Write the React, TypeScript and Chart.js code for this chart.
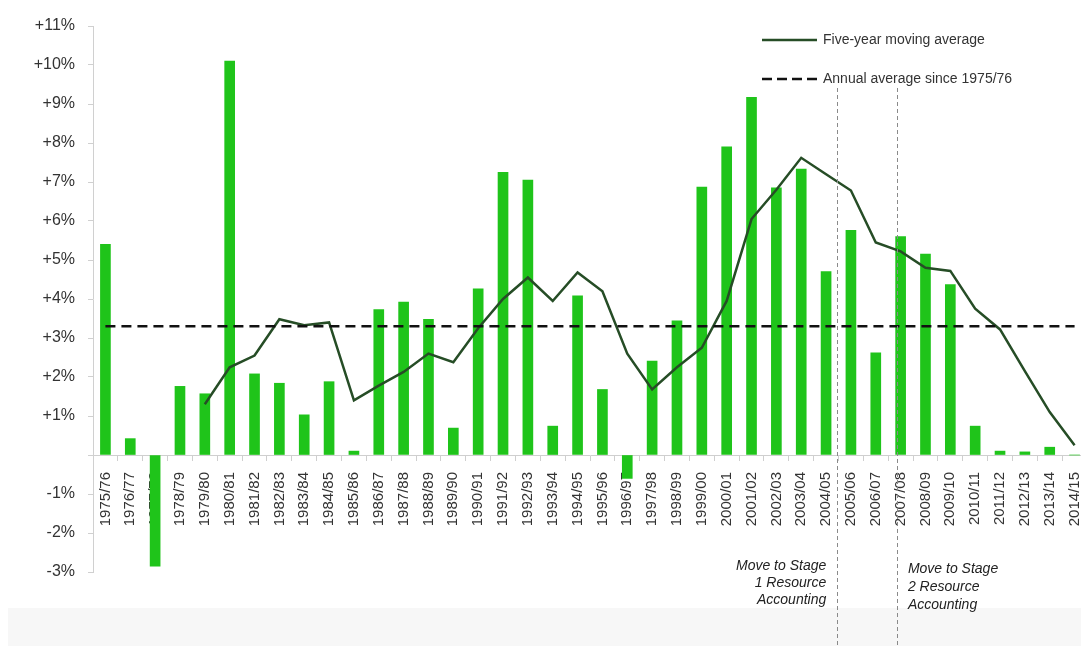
import React, { useEffect, useRef } from 'react';
import { Chart, registerables } from 'chart.js';

Chart.register(...registerables);

const CATEGORIES = [
  '1975/76', '1976/77', '1977/78', '1978/79', '1979/80', '1980/81', '1981/82', '1982/83',
  '1983/84', '1984/85', '1985/86', '1986/87', '1987/88', '1988/89', '1989/90', '1990/91',
  '1991/92', '1992/93', '1993/94', '1994/95', '1995/96', '1996/97', '1997/98', '1998/99',
  '1999/00', '2000/01', '2001/02', '2002/03', '2003/04', '2004/05', '2005/06', '2006/07',
  '2007/08', '2008/09', '2009/10', '2010/11', '2011/12', '2012/13', '2013/14', '2014/15',
];

const ANNUAL_GROWTH = [
  5.4, 0.42, -2.85, 1.76, 1.57, 10.1, 2.08, 1.84,
  1.03, 1.88, 0.1, 3.73, 3.92, 3.48, 0.69, 4.26,
  7.25, 7.05, 0.74, 4.08, 1.68, -0.6, 2.41, 3.44,
  6.87, 7.9, 9.17, 6.85, 7.33, 4.7, 5.76, 2.62,
  5.6, 5.15, 4.37, 0.74, 0.1, 0.08, 0.2, 0,
];

const MOVING_AVERAGE = [
  null, null, null, null, 1.3, 2.25, 2.55, 3.48,
  3.33, 3.4, 1.4, 1.78, 2.13, 2.6, 2.38, 3.25,
  4.0, 4.55, 3.95, 4.68, 4.2, 2.6, 1.68, 2.25,
  2.75, 3.95, 6.05, 6.8, 7.62, 7.2, 6.78, 5.45,
  5.22, 4.8, 4.72, 3.75, 3.22, 2.15, 1.1, 0.25,
];

const ANNUAL_AVERAGE = 3.3;
const MOVING_LABEL = 'Five-year moving average';
const AVERAGE_LABEL = 'Annual average since 1975/76';

const STAGE_POSITIONS = [29.45, 31.85];
const STAGE_NOTES = [
  ['Move to Stage', '1 Resource', 'Accounting'],
  ['Move to Stage', '2 Resource', 'Accounting'],
];

const BAR_COLOR = '#1fc41a';
const LINE_COLOR = '#264d26';
const FONT = "'Liberation Sans', Arial, sans-serif";

function formatPct(v: number): string {
  if (v > 0) return `+${v}%`;
  if (v < 0) return `${v}%`;
  return '';
}

export default function App() {
  const ref = useRef<HTMLCanvasElement>(null);

  useEffect(() => {
    if (!ref.current) return;

    const overlay = {
      id: 'overlay',
      afterDatasetsDraw(chart: any) {
        const { ctx, scales } = chart;
        const x = scales.x;
        const y = scales.y;
        ctx.save();
        const yy = y.getPixelForValue(ANNUAL_AVERAGE);
        ctx.strokeStyle = '#111';
        ctx.lineWidth = 2.5;
        ctx.setLineDash([10, 6]);
        ctx.beginPath();
        ctx.moveTo(x.getPixelForValue(0), yy);
        ctx.lineTo(x.getPixelForValue(CATEGORIES.length - 1), yy);
        ctx.stroke();
        ctx.restore();
      },
      afterDraw(chart: any) {
        const { ctx, scales } = chart;
        const x = scales.x;
        ctx.save();
        ctx.strokeStyle = '#8a8a8a';
        ctx.lineWidth = 1;
        ctx.setLineDash([4, 3]);
        STAGE_POSITIONS.forEach((p) => {
          const px = Math.round(x.getPixelForValue(p)) + 0.5;
          ctx.beginPath();
          ctx.moveTo(px, 88);
          ctx.lineTo(px, 646);
          ctx.stroke();
        });
        ctx.setLineDash([]);
        ctx.fillStyle = '#222';
        ctx.font = `italic 14px ${FONT}`;
        ctx.textBaseline = 'middle';
        const p0 = x.getPixelForValue(STAGE_POSITIONS[0]);
        ctx.textAlign = 'right';
        STAGE_NOTES[0].forEach((t, i) => ctx.fillText(t, p0 - 11, 566 + i * 17));
        const p1 = x.getPixelForValue(STAGE_POSITIONS[1]);
        ctx.textAlign = 'left';
        STAGE_NOTES[1].forEach((t, i) => ctx.fillText(t, p1 + 11, 569 + i * 18));

        ctx.font = `14px ${FONT}`;
        ctx.fillStyle = '#333';
        ctx.textAlign = 'left';
        ctx.strokeStyle = LINE_COLOR;
        ctx.lineWidth = 2.5;
        ctx.beginPath();
        ctx.moveTo(762, 40);
        ctx.lineTo(817, 40);
        ctx.stroke();
        ctx.fillText(MOVING_LABEL, 823, 40);
        ctx.strokeStyle = '#111';
        ctx.setLineDash([10, 5]);
        ctx.beginPath();
        ctx.moveTo(762, 79);
        ctx.lineTo(819, 79);
        ctx.stroke();
        ctx.setLineDash([]);
        ctx.fillText(AVERAGE_LABEL, 823, 79);
        ctx.restore();
      },
    };

    const chart = new Chart(ref.current, {
      type: 'bar',
      data: {
        labels: CATEGORIES,
        datasets: [
          {
            type: 'line',
            label: MOVING_LABEL,
            data: MOVING_AVERAGE as any,
            borderColor: LINE_COLOR,
            borderWidth: 2.5,
            pointRadius: 0,
            tension: 0,
            fill: false,
            order: 0,
          } as any,
          {
            type: 'bar',
            label: 'Annual growth',
            data: ANNUAL_GROWTH,
            backgroundColor: BAR_COLOR,
            barThickness: 10,
            order: 1,
          },
        ],
      },
      options: {
        responsive: false,
        animation: false,
        layout: { padding: { left: 0, right: 3, top: 26, bottom: 74 } },
        plugins: {
          legend: { display: false },
          tooltip: { enabled: false },
        },
        scales: {
          x: {
            position: { y: 0 } as any,
            offset: true,
            afterFit: (s: any) => {
              s.paddingLeft = 0;
              s.paddingRight = 0;
            },
            grid: {
              display: true,
              drawOnChartArea: false,
              drawTicks: true,
              tickLength: 5,
              color: '#cfcfcf',
              offset: true,
            },
            border: { display: true, color: '#cfcfcf', width: 1 },
            ticks: {
              autoSkip: false,
              minRotation: 90,
              maxRotation: 90,
              padding: 12,
              color: '#333',
              font: { family: FONT, size: 15 },
            },
          },
          y: {
            min: -3,
            max: 11,
            afterFit: (s: any) => {
              s.width = 93;
            },
            grid: {
              display: true,
              drawOnChartArea: false,
              drawTicks: true,
              tickLength: 5,
              color: '#d0d0d0',
            },
            border: { display: true, color: '#d0d0d0', width: 1 },
            ticks: {
              stepSize: 1,
              padding: 13,
              color: '#333',
              font: { family: FONT, size: 16 },
              callback: (v: any) => formatPct(Number(v)),
            },
          },
        },
      },
      plugins: [overlay],
    });

    return () => chart.destroy();
  }, []);

  return (
    <div
      style={{
        position: 'absolute',
        left: 0,
        top: 0,
        width: 1081,
        height: 646,
        overflow: 'hidden',
        background: '#ffffff',
      }}
    >
      <div
        style={{
          position: 'absolute',
          left: 8,
          top: 608,
          width: 1073,
          height: 38,
          background: '#f7f7f7',
        }}
      />
      <canvas
        ref={ref}
        width={1090}
        height={646}
        style={{ position: 'absolute', left: 0, top: 0, width: 1090, height: 646 }}
      />
    </div>
  );
}
